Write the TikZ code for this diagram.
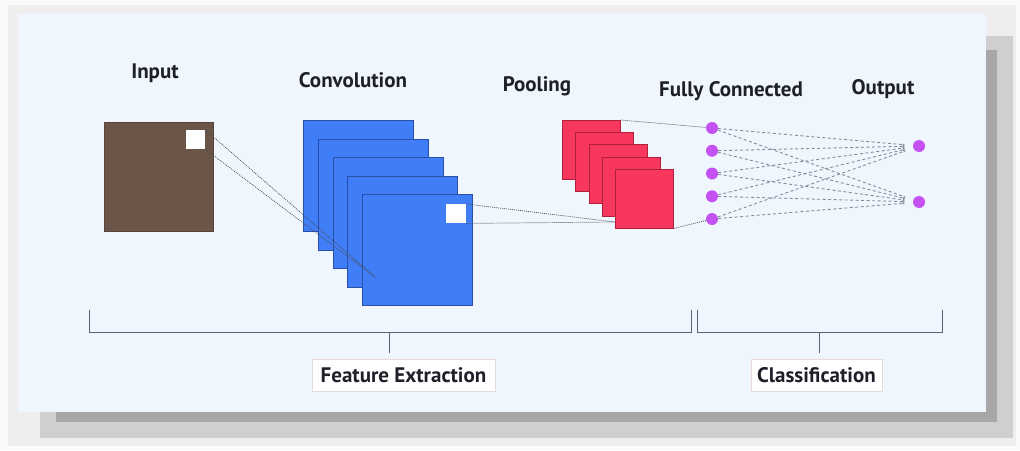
\documentclass[tikz,border=0pt]{standalone}
\usepackage{fontspec}
\setmainfont{PT Sans}
\usetikzlibrary{arrows.meta}

\definecolor{pagebg}{HTML}{FAFAFA}
\definecolor{haze}{HTML}{EEEEEE}
\definecolor{shadowmid}{HTML}{CFCFCF}
\definecolor{shadowdark}{HTML}{A7A7A7}
\definecolor{panel}{HTML}{EFF6FD}
\definecolor{inputbrown}{HTML}{6B5548}
\definecolor{convblue}{HTML}{3F7EF6}
\definecolor{convedge}{HTML}{2A4FA8}
\definecolor{poolred}{HTML}{F7375E}
\definecolor{pooledge}{HTML}{B0203C}
\definecolor{neuron}{HTML}{C452F2}
\definecolor{inktext}{HTML}{1E1F28}
\definecolor{wire}{HTML}{858D9B}
\definecolor{bracket}{HTML}{5A606E}
\definecolor{tagedge}{HTML}{E6D9DA}

\tikzset{
  heading/.style={font=\bfseries\fontsize{21}{23}\selectfont, text=inktext},
  inputsq/.style={draw=inputbrown!80!black, line width=0.4pt, fill=inputbrown,
    minimum width=109pt, minimum height=109pt, anchor=north west, inner sep=0pt},
  patch/.style={fill=white, draw=none, anchor=north west, inner sep=0pt},
  convsq/.style={draw=convedge, line width=0.7pt, fill=convblue,
    minimum width=110pt, minimum height=111pt, anchor=north west, inner sep=0pt},
  poolsq/.style={draw=pooledge, line width=0.6pt, fill=poolred,
    minimum width=58pt, minimum height=59pt, anchor=north west, inner sep=0pt},
  unit/.style={circle, fill=neuron, draw=none, minimum size=12pt, inner sep=0pt},
  receptive/.style={draw=black!70, line width=0.7pt, dash pattern=on 1pt off 1pt},
  dense/.style={draw=wire, line width=0.9pt, dash pattern=on 3pt off 2.5pt,
    -{Stealth[length=2.5pt,width=2.5pt]}, shorten >=8pt},
  brace/.style={draw=bracket, line width=0.8pt},
  tag/.style={draw=tagedge, fill=white, line width=0.6pt, inner sep=0pt,
    minimum height=32pt, font=\bfseries\fontsize{21}{23}\selectfont, text=inktext},
}

\begin{document}
\begin{tikzpicture}[x=1pt, y=-1pt]
  % page, soft shadow and panel
  \fill[pagebg] (0,0) rectangle (1020,450);
  \useasboundingbox (0,0) rectangle (1020,450);
  \fill[haze] (8,5) rectangle (1016,446);
  \fill[shadowmid] (40,36) rectangle (1013,438);
  \fill[shadowdark] (56,50) rectangle (997,422);
  \fill[panel] (18,14) rectangle (986,412);

  % headings
  \node[heading] (tIn)   at (155,73) {Input};
  \node[heading] (tConv) at (353,80) {Convolution};
  \node[heading] (tPool) at (537,86) {Pooling};
  \node[heading] (tFC)   at (731,91) {Fully Connected};
  \node[heading] (tOut)  at (883,89) {Output};

  % input image with its receptive field
  \node[inputsq] (inp) at (104,122) {};
  \node[patch, minimum width=19pt, minimum height=19pt] (inpatch) at (186,130) {};

  % stack of convolution maps
  \foreach \i in {0,...,4} {
    \node[convsq] (conv\i) at ({303+14.8*\i},{120+18.5*\i}) {};
  }
  \node[patch, minimum width=20pt, minimum height=19pt] (convpatch) at (446,204) {};
  \coordinate (convfocus) at (375,277);

  \draw[receptive] (inpatch.north east) -- (convfocus);
  \draw[receptive] (inpatch.south east) -- (convfocus);

  % stack of pooled maps
  \foreach \i in {0,...,4} {
    \node[poolsq] (pool\i) at ({562+13.3*\i},{120+12.2*\i}) {};
  }
  \coordinate (poolfocus) at (615,222);
  \draw[receptive] (convpatch.north east) -- (poolfocus);
  \draw[receptive] (convpatch.south east) -- (poolfocus);

  % fully connected layer and outputs
  \foreach \j in {0,...,4} {
    \node[unit] (fc\j) at (712,{128+22.75*\j}) {};
  }
  \node[unit] (out0) at (919,146) {};
  \node[unit] (out1) at (919,202) {};

  \draw[receptive] (pool0.north east) -- (fc0);
  \draw[receptive] (pool4.south east) -- (fc4);

  \foreach \j in {0,...,4} {
    \foreach \k in {0,1} {
      \draw[dense] (fc\j) -- (out\k);
    }
  }

  % brackets grouping the stages
  \coordinate (b1l) at (89,310);  \coordinate (b1r) at (691,310);
  \coordinate (b2l) at (697,310); \coordinate (b2r) at (942,310);
  \draw[brace] (b1l) -- (89,332) -- (691,332) -- (b1r);
  \draw[brace] (b2l) -- (697,332) -- (942,332) -- (b2r);

  \node[tag, minimum width=183pt] (fe) at (403.5,375) {Feature Extraction};
  \node[tag, minimum width=131pt] (cls) at (816.5,375) {Classification};

  \coordinate (s1) at (389,332); \coordinate (s1e) at (389,353);
  \coordinate (s2) at (819,332); \coordinate (s2e) at (819,353);
  \draw[brace] (s1) -- (s1e);
  \draw[brace] (s2) -- (s2e);
\end{tikzpicture}
\end{document}
